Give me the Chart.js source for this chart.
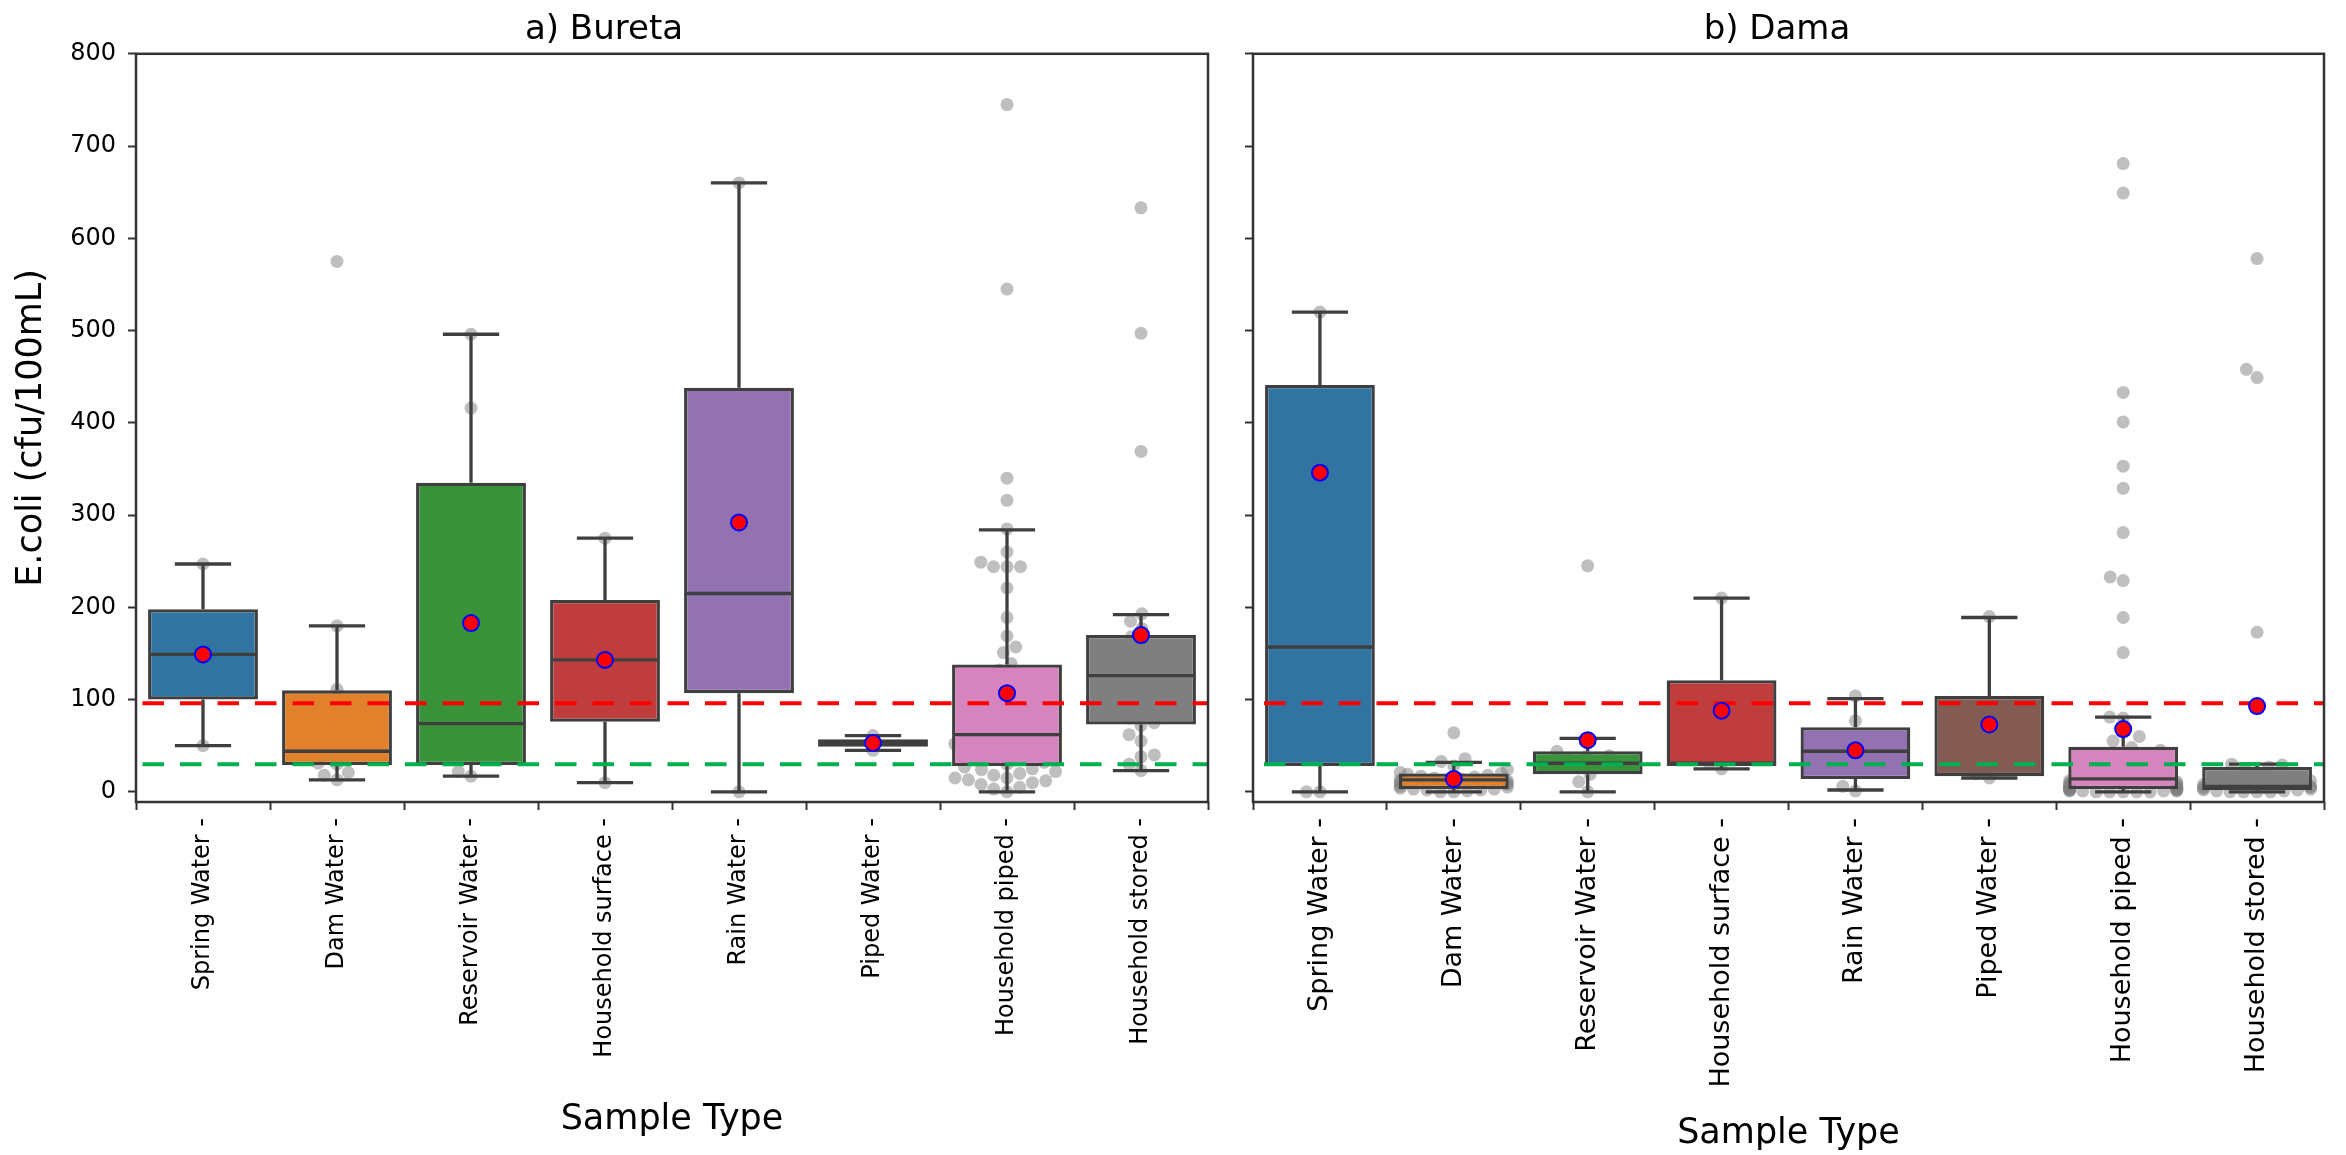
<!DOCTYPE html>
<html>
<head>
<meta charset="utf-8">
<title>E.coli by sample type</title>
<script src="https://cdn.jsdelivr.net/npm/chart.js"></script>
<style>
  body { margin: 0; background: #fff; }
  canvas { position: absolute; top: 0; }
  #left { left: 0; }
  #right { left: 1230px; }
</style>
</head>
<body>
<canvas id="left" width="1230" height="1155"></canvas>
<canvas id="right" width="1116" height="1155"></canvas>
<script>
// categories / tick labels
const tickLabels = ['Spring Water -', 'Dam Water -', 'Reservoir Water -', 'Household surface -',
                    'Rain Water -', 'Piped Water -', 'Household piped -', 'Household stored -'];
const yTicks = [0, 100, 200, 300, 400, 500, 600, 700, 800];
const redLimit = 96;
const greenLimit = 30;

// a) Bureta - box statistics
const buretaLow    = [50, 13, 17, 10, 0, 45, 0, 23];
const buretaQ1     = [100, 29, 29, 76, 107, 49, 28, 73];
const buretaMedian = [149, 44, 74, 143, 215, 53, 62, 126];
const buretaQ3     = [198, 110, 335, 208, 438, 57, 138, 170];
const buretaHigh   = [247, 180, 496, 275, 660, 61, 284, 192];
const buretaMean   = [149, null, 183, 143, 292, 53, 107, 170];
// a) Bureta - individual samples
const buretaPoints = [
  [50, 149, 247],
  [13, 18, 21, 30, 31, 40, 45, 45, 56, 111, 180, 575],
  [17, 22, 59, 92, 416, 496],
  [10, 143, 275],
  [0, 215, 660],
  [45, 61],
  [0, 3, 5, 8, 10, 12, 13, 15, 15, 18, 20, 22, 24, 25, 27,
   30, 32, 35, 35, 38, 40, 42, 45, 45, 48, 50, 52, 55, 56, 60,
   63, 65, 66, 68, 71, 75, 80, 86, 90, 95, 102, 106, 120, 132,
   139, 151, 157, 169, 189, 221, 244, 244, 244, 249, 260, 285, 316, 340, 545, 745],
  [23, 30, 38, 40, 55, 62, 72, 75, 80, 90, 100, 110, 120, 127, 130, 140, 145,
   153, 160, 168, 177, 185, 193, 369, 497, 633]
];

// b) Dama - box statistics
const damaLow    = [0, 0, 0, 25, 2, 15, 0, 0];
const damaQ1     = [28, 3, 19, 28, 14, 17, 3, 2];
const damaMedian = [157, 13, 31, 31, 44, 19, 14, 6];
const damaQ3     = [441, 20, 44, 121, 70, 104, 49, 27];
const damaHigh   = [520, 32, 58, 210, 101, 189, 81, 30];
const damaMean   = [346, 14, 56, 88, 45, 73, 68, 93];
// b) Dama - individual samples
const damaPoints = [
  [0, 0, 111, 205, 520],
  [0, 0, 1, 2, 2, 3, 3, 4, 5, 6, 8, 9, 10, 11, 12, 13, 13, 14, 15, 16, 17, 18, 19, 20, 21, 24, 28, 33, 36, 64],
  [0, 11, 19, 26, 31, 35, 38, 39, 44, 58, 245],
  [25, 31, 210],
  [1, 6, 40, 48, 77, 104],
  [15, 19.5, 190],
  [0, 0, 0, 0, 0, 1, 1, 1, 1, 2, 2, 2, 2, 3, 3,
   3, 4, 4, 5, 5, 6, 6, 7, 8, 9, 10, 11, 12, 13, 14,
   15, 16, 18, 20, 22, 25, 28, 30, 33, 35, 38, 40, 42, 45, 48,
   55, 60, 80, 81, 151, 189, 229, 233, 281, 329, 353, 401, 433, 649, 681],
  [0, 0, 0, 0, 1, 1, 2, 2, 3, 4, 5, 5, 6, 8, 12, 20, 25, 27, 29, 30, 173, 449, 458, 578]
];

const boxColors = ['#3274a1', '#e1812c', '#3a923a', '#c03d3e', '#9372b2', '#845b53', '#d684bd', '#7f7f7f'];
const edge = '#3f3f3f';
const dotRadius = 6.5;

Chart.defaults.font.family = '"DejaVu Sans", sans-serif';
Chart.defaults.color = '#000';

// whiskers, caps and median line for the box dataset
function whiskerPlugin(s) {
  return {
    id: 'whiskers',
    afterDatasetDraw(chart, args) {
      if (args.index !== 0) return;
      const {ctx, scales: {x, y}} = chart;
      ctx.save();
      ctx.strokeStyle = edge;
      ctx.lineWidth = 3.3;
      ctx.beginPath();
      s.median.forEach((m, i) => {
        const cx = x.getPixelForValue(i);
        const hi = y.getPixelForValue(s.high[i]), lo = y.getPixelForValue(s.low[i]);
        ctx.moveTo(x.getPixelForValue(i - 0.4), y.getPixelForValue(m));
        ctx.lineTo(x.getPixelForValue(i + 0.4), y.getPixelForValue(m));
        ctx.moveTo(cx, y.getPixelForValue(s.q3[i])); ctx.lineTo(cx, hi);
        ctx.moveTo(cx, y.getPixelForValue(s.q1[i])); ctx.lineTo(cx, lo);
        ctx.moveTo(x.getPixelForValue(i - 0.21), hi); ctx.lineTo(x.getPixelForValue(i + 0.21), hi);
        ctx.moveTo(x.getPixelForValue(i - 0.21), lo); ctx.lineTo(x.getPixelForValue(i + 0.21), lo);
      });
      ctx.stroke();
      ctx.restore();
    }
  };
}

const framePlugin = {
  id: 'frame',
  afterDraw(chart) {
    const {ctx, chartArea: a} = chart;
    ctx.save();
    ctx.strokeStyle = '#333';
    ctx.lineWidth = 2.5;
    ctx.strokeRect(a.left, a.top, a.right - a.left, a.bottom - a.top);
    ctx.restore();
  }
};

// beeswarm layout in pixel space, clipped to the box width (like seaborn swarmplot)
function swarm(chart, values, idx) {
  const xs = chart.scales.x, ys = chart.scales.y;
  const unit = xs.getPixelForValue(1) - xs.getPixelForValue(0);
  const d = 2 * dotRadius + 0.5;
  const pts = values.map(v => ({v, py: ys.getPixelForValue(v)})).sort((a, b) => a.v - b.v);
  const placed = [];
  pts.forEach(p => {
    const near = placed.filter(q => Math.abs(q.py - p.py) < d);
    const cands = [0];
    near.forEach(q => {
      const dx = Math.sqrt(d * d - (q.py - p.py) ** 2);
      cands.push(q.dx - dx, q.dx + dx);
    });
    cands.sort((a, b) => Math.abs(a) - Math.abs(b));
    p.dx = cands.find(c => near.every(q => (q.dx - c) ** 2 + (q.py - p.py) ** 2 >= d * d - 0.01));
    placed.push(p);
  });
  const half = 0.4 * unit;
  return placed.map(p => ({x: idx + Math.max(-half, Math.min(half, p.dx)) / unit, y: p.v}));
}

function limitLine(value, color, dashOffset) {
  return {
    type: 'line', order: 3,
    data: [{x: -0.5, y: value}, {x: 7.5, y: value}],
    borderColor: color, borderWidth: 4, borderDash: [21.5, 16], borderDashOffset: dashOffset,
    pointRadius: 0, fill: false
  };
}

function makePanel(id, p) {
  const chart = new Chart(document.getElementById(id), {
    type: 'bar',
    data: {
      datasets: [
        {
          order: 5,
          data: p.q1.map((q, i) => ({x: i, y: [q, p.q3[i]]})),
          backgroundColor: boxColors,
          borderColor: edge, borderWidth: 3.3, borderSkipped: false,
          barPercentage: 0.82, categoryPercentage: 1
        },
        {
          // samples sit behind the boxes
          type: 'scatter', order: 6, data: [],
          pointRadius: dotRadius, pointBackgroundColor: 'rgba(128,128,128,0.5)', pointBorderWidth: 0
        },
        limitLine(redLimit, '#ff0000', p.dashOffset),
        limitLine(greenLimit, '#00b050', p.dashOffset),
        {
          type: 'scatter', order: 1,
          data: p.mean.map((m, i) => m == null ? null : {x: i, y: m}).filter(Boolean),
          pointRadius: 8, pointBackgroundColor: '#ff0000', pointBorderColor: '#0000ff', pointBorderWidth: 2
        }
      ]
    },
    options: {
      responsive: false, animation: false, events: [],
      layout: {padding: {left: 0, right: 22, top: 0, bottom: 0}},
      plugins: {
        legend: {display: false}, tooltip: {enabled: false},
        title: {display: true, text: p.title, font: {size: 34, weight: 'normal'}, color: '#000',
                padding: {top: 10, bottom: 3}}
      },
      scales: {
        x: {
          type: 'linear', min: -0.5, max: 7.5, offset: false,
          afterBuildTicks: axis => { axis.ticks = tickLabels.map((t, i) => ({value: i})); },
          afterFit: axis => { axis.height = 353; },
          ticks: {callback: v => tickLabels[v], minRotation: 90, maxRotation: 90, autoSkip: false,
                  padding: 8, font: {size: p.xTickSize}, color: '#000'},
          grid: {drawOnChartArea: false, drawTicks: true, tickLength: 8, tickWidth: 2, tickColor: '#333'},
          border: {display: false},
          title: {display: true, text: 'Sample Type', font: {size: 35}, color: '#000',
                  padding: {top: 0, bottom: p.xTitleBottom}}
        },
        y: {
          type: 'linear', min: -11, max: 800,
          afterBuildTicks: axis => { axis.ticks = yTicks.map(v => ({value: v})); },
          afterFit: axis => { axis.width = p.yWidth; },
          ticks: {callback: v => p.showY ? String(v) : '', padding: 12, font: {size: 24}, color: '#000'},
          grid: {drawOnChartArea: false, drawTicks: true, tickLength: 8, tickWidth: 2, tickColor: '#333'},
          border: {display: false},
          title: {display: p.showY, text: 'E.coli (cfu/100mL)', font: {size: 35}, color: '#000',
                  padding: {top: 11, bottom: 0}}
        }
      }
    },
    plugins: [whiskerPlugin(p), framePlugin]
  });
  chart.data.datasets[1].data = p.points.flatMap((vals, i) => swarm(chart, vals, i));
  chart.update('none');
  return chart;
}

makePanel('left', {
  title: 'a) Bureta', low: buretaLow, q1: buretaQ1, median: buretaMedian, q3: buretaQ3,
  high: buretaHigh, mean: buretaMean, points: buretaPoints,
  showY: true, yWidth: 136, xTitleBottom: 14, xTickSize: 24, dashOffset: 31
});
makePanel('right', {
  title: 'b) Dama', low: damaLow, q1: damaQ1, median: damaMedian, q3: damaQ3,
  high: damaHigh, mean: damaMean, points: damaPoints,
  showY: false, yWidth: 23, xTitleBottom: 0, xTickSize: 27, dashOffset: 26.5
});
</script>
</body>
</html>
